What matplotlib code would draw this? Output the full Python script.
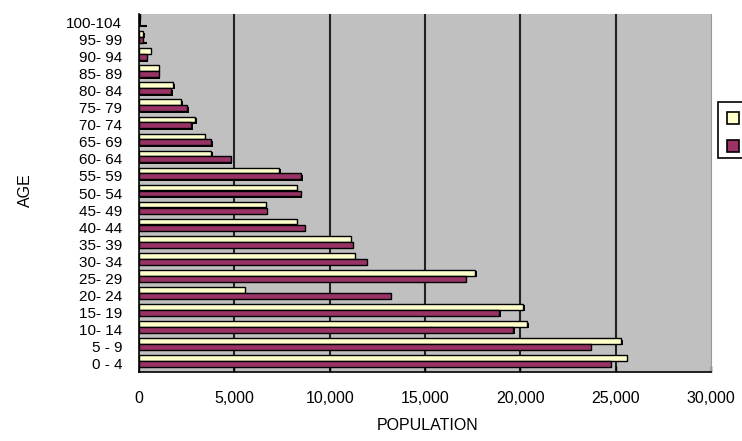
import numpy as np
import matplotlib
matplotlib.use('Agg')
import matplotlib.pyplot as plt
import matplotlib.patches as patches
import matplotlib.patheffects as pe

# categories, bottom to top
ages = ['0 - 4', '5 - 9', '10- 14', '15- 19', '20- 24', '25- 29', '30- 34',
        '35- 39', '40- 44', '45- 49', '50- 54', '55- 59', '60- 64', '65- 69',
        '70- 74', '75- 79', '80- 84', '85- 89', '90- 94', '95- 99', '100-104']

# light series (upper bar of each pair)
serie1 = [25600, 25300, 20370, 20160, 5560, 17640, 11310, 11120, 8290, 6640,
          8290, 7360, 3790, 3440, 2950, 2220, 1800, 1030, 630, 220, 50]
# dark series (lower bar of each pair)
serie2 = [24760, 23710, 19630, 18900, 13220, 17130, 11960, 11210, 8710, 6710,
          8500, 8510, 4810, 3790, 2740, 2530, 1700, 1050, 400, 190, 20]

xticks = [0, 5000, 10000, 15000, 20000, 25000, 30000]

jaune = '#FFFFCC'
bordeaux = '#993366'
fond = '#C0C0C0'

plt.rcParams['font.family'] = ['Liberation Sans', 'DejaVu Sans']

fig = plt.figure(figsize=(7.42, 4.41), dpi=100)
ax = fig.add_axes([139 / 742, 1 - 372 / 441, 572 / 742, 358 / 441])
ax.set_facecolor(fond)

y = np.arange(len(ages))
ombre = [pe.SimplePatchShadow(offset=(1, -1), shadow_rgbFace='black', alpha=1.0), pe.Normal()]

ax.barh(y + 0.32, serie1, height=0.33, color=jaune, edgecolor='black',
        linewidth=1.0, path_effects=ombre, zorder=3)
ax.barh(y - 0.03, serie2, height=0.35, color=bordeaux, edgecolor='black',
        linewidth=1.0, path_effects=ombre, zorder=3)

ax.set_xlim(0, 30000)
ax.set_ylim(-0.5, len(ages) - 0.5)

# quadrillage vertical
for v in xticks[1:-1]:
    ax.axvline(v, color='#222222', linewidth=1.5, zorder=1)

ax.set_xticks(xticks)
ax.set_xticklabels(['{:,}'.format(v) for v in xticks], fontsize=11.5)
ax.tick_params(axis='x', direction='in', length=4, width=1, pad=14)

ax.set_yticks(y)
ax.set_yticklabels(ages, fontsize=11)
ax.tick_params(axis='y', which='major', length=0, pad=12)
ax.set_yticks(y - 0.2, minor=True)
ax.tick_params(axis='y', which='minor', direction='in', length=6, width=1.5)

ax.spines['top'].set_visible(False)
ax.spines['right'].set_color('#999999')
ax.spines['left'].set_color('black')
ax.spines['bottom'].set_color('black')
ax.spines['left'].set_linewidth(1.2)
ax.spines['bottom'].set_linewidth(1.2)

fig.text(428 / 742, 1 - 425 / 441, 'POPULATION', fontsize=11.5, ha='center', va='center')
fig.text(25 / 742, 1 - 190 / 441, 'AGE', fontsize=11.5, ha='center', va='center', rotation=90)

# legende coupee a droite
fig.add_artist(patches.Rectangle((718 / 742, 1 - 158 / 441), 40 / 742, 56 / 441,
                                 transform=fig.transFigure, facecolor='white',
                                 edgecolor='black', linewidth=1.2))
fig.add_artist(patches.Rectangle((727 / 742, 1 - 124 / 441), 12 / 742, 12 / 441,
                                 transform=fig.transFigure, facecolor=jaune,
                                 edgecolor='black', linewidth=1.2))
fig.add_artist(patches.Rectangle((727 / 742, 1 - 152 / 441), 12 / 742, 12 / 441,
                                 transform=fig.transFigure, facecolor=bordeaux,
                                 edgecolor='black', linewidth=1.2))

fig.savefig('out.png', dpi=100)
